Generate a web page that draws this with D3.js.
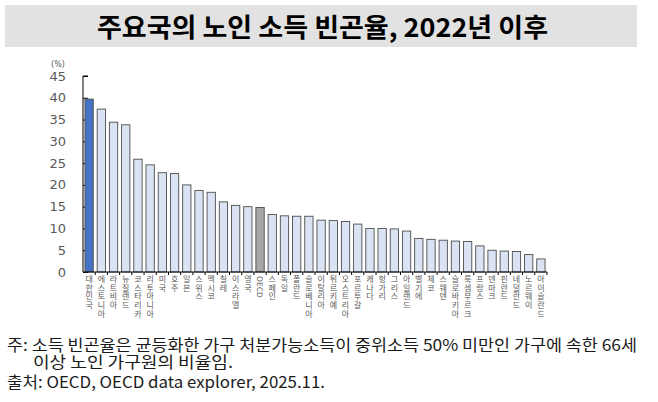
<!DOCTYPE html>
<html>
<head>
<meta charset="utf-8">
<script src="https://cdn.jsdelivr.net/npm/d3@7"></script>
<style>
  body { margin: 0; background: #fff; }
  svg { display: block; }
</style>
</head>
<body>
<div id="chart"></div>
<script>
// countries, highest poverty rate first
const countries = ["대한민국", "에스토니아", "라트비아", "뉴질랜드", "코스타리카", "리투아니아", "미국", "호주",
  "일본", "스위스", "멕시코", "칠레", "이스라엘", "영국", "OECD", "스페인", "독일", "폴란드", "슬로베니아",
  "이탈리아", "튀르키예", "오스트리아", "포르투갈", "캐나다", "헝가리", "그리스", "아일랜드", "벨기에", "체코",
  "스웨덴", "슬로바키아", "룩셈부르크", "프랑스", "덴마크", "핀란드", "네덜란드", "노르웨이", "아이슬란드"]
const rates = [39.7, 37.4, 34.4, 33.8, 25.9, 24.6, 22.8, 22.6,
  20.0, 18.7, 18.3, 16.1, 15.3, 15.0, 14.8, 13.2, 12.9, 12.8, 12.8,
  11.9, 11.8, 11.6, 11.0, 10.0, 10.0, 9.9, 9.4, 7.7, 7.5,
  7.3, 7.1, 7.0, 6.0, 5.0, 4.8, 4.7, 4.0, 3.0]
const yTicks = [0, 5, 10, 15, 20, 25, 30, 35, 40, 45]

const titleText = "주요국의 노인 소득 빈곤율, 2022년 이후"
const noteLines = [
  "주: 소득 빈곤율은 균등화한 가구 처분가능소득이 중위소득 50% 미만인 가구에 속한 66세",
  "이상 노인 가구원의 비율임.",
  "출처: OECD, OECD data explorer, 2025.11."
]

const svg = d3.select("#chart").append("svg")
  .attr("width", 658)
  .attr("height", 402)

// title band
svg.append("rect")
  .attr("x", 5).attr("y", 5)
  .attr("width", 632).attr("height", 42)
  .attr("fill", "#e2e2e2")

svg.append("text")
  .attr("x", 97).attr("y", 37)
  .attr("textLength", 451)
  .attr("lengthAdjust", "spacingAndGlyphs")
  .style("font-family", "'Noto Sans CJK KR'")
  .style("font-weight", 700)
  .style("font-size", "26px")
  .attr("fill", "#000")
  .text(titleText)

const x = d3.scaleBand()
  .domain(countries)
  .range([83, 547])
  .paddingInner(0.32)
  .paddingOuter(0.16)

const y = d3.scaleLinear()
  .domain([0, 45])
  .range([272, 76])

// y axis, ticks inside
const yAxis = svg.append("g")
  .attr("transform", "translate(83,0)")
  .call(d3.axisRight(y).tickValues(yTicks).tickSize(5).tickFormat(""))
yAxis.select(".domain").attr("stroke", "#000")
  .attr("d", `M5,${y(45)}H0V${y(0)}`)
yAxis.selectAll(".tick line").attr("stroke", "#000")

svg.selectAll(".ylab")
  .data(yTicks)
  .enter().append("text")
    .attr("class", "ylab")
    .attr("x", 66)
    .attr("y", d => y(d) + 4.6)
    .attr("text-anchor", "end")
    .style("font-family", "'DejaVu Sans'")
    .style("font-size", "13px")
    .attr("fill", "#595959")
    .text(d => d)

svg.append("text")
  .attr("x", 58).attr("y", 67)
  .attr("text-anchor", "middle")
  .style("font-family", "'DejaVu Sans'")
  .style("font-size", "8px")
  .attr("fill", "#595959")
  .text("(%)")

// bars
let fillFor = d => d === "대한민국" ? "#4472c4" : d === "OECD" ? "#a6a6a6" : "#dae3f3"

svg.selectAll(".bar")
  .data(countries)
  .enter().append("rect")
    .attr("class", "bar")
    .attr("x", d => x(d))
    .attr("y", (d, i) => y(rates[i]))
    .attr("width", x.bandwidth())
    .attr("height", (d, i) => y(0) - y(rates[i]))
    .attr("fill", fillFor)
    .attr("stroke", "#4d4d4d")
    .attr("stroke-width", 0.9)

// baseline with category ticks
svg.append("line")
  .attr("x1", 83).attr("x2", 547)
  .attr("y1", y(0)).attr("y2", y(0))
  .attr("stroke", "#000")
const gap = x.step() * x.paddingInner() / 2
svg.selectAll(".xtick")
  .data(countries)
  .enter().append("line")
    .attr("class", "xtick")
    .attr("x1", d => x(d) + x.bandwidth() + gap)
    .attr("x2", d => x(d) + x.bandwidth() + gap)
    .attr("y1", y(0)).attr("y2", y(0) + 3)
    .attr("stroke", "#000")

// vertical labels, one syllable per line
countries.forEach(c => {
  let cx = x(c) + x.bandwidth() / 2
  if (c === "OECD") {
    svg.append("text")
      .attr("transform", `translate(${cx - 3},276) rotate(90)`)
      .style("font-family", "'DejaVu Sans'")
      .style("font-size", "7.5px")
      .attr("fill", "#595959")
      .text(c)
    return
  }
  let t = svg.append("text")
    .attr("text-anchor", "middle")
    .style("font-family", "'Noto Sans CJK KR'")
    .style("font-size", "8px")
    .attr("fill", "#595959")
  Array.from(c).forEach((ch, i) => {
    t.append("tspan")
      .attr("x", cx)
      .attr("y", 282 + i * 8.7)
      .text(ch)
  })
})

// notes
const noteFont = "'Noto Sans CJK KR'"
const notePos = [[7, 351, 630], [33, 368, 200], [7, 388, 318]]
noteLines.forEach((s, i) => {
  svg.append("text")
    .attr("x", notePos[i][0])
    .attr("y", notePos[i][1])
    .attr("textLength", notePos[i][2])
    .attr("lengthAdjust", "spacingAndGlyphs")
    .style("font-family", noteFont)
    .style("font-size", "16px")
    .attr("fill", "#1a1a1a")
    .text(s)
})
</script>
</body>
</html>
